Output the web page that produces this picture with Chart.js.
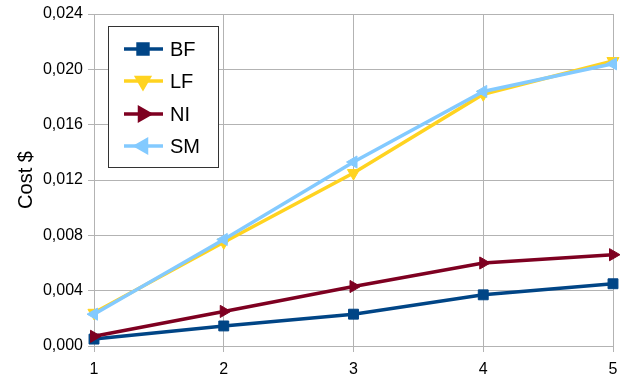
<!DOCTYPE html>
<html>
<head>
<meta charset="UTF-8">
<script src="https://cdn.jsdelivr.net/npm/chart.js@4"></script>
<style>
  body{margin:0;background:#fff;}
  #wrap{width:621px;height:379px;}
</style>
</head>
<body>
<div id="wrap"><canvas id="myChart" width="621" height="379"></canvas></div>
<script>
const xLabels = ['1','2','3','4','5'];
const names = ['BF','LF','NI','SM'];
const bf = [0.0005, 0.00145, 0.0023, 0.0037, 0.0045];
const lf = [0.0024, 0.0075, 0.0125, 0.0182, 0.0206];
const ni = [0.0007, 0.0025, 0.0043, 0.0060, 0.0066];
const sm = [0.0023, 0.0077, 0.0133, 0.0184, 0.0204];
const yTicks = [0, 0.004, 0.008, 0.012, 0.016, 0.020, 0.024];

const colors = ['#004586','#ffd320','#7e0021','#83caff'];
const styles = ['rect','triangle','triangle','triangle'];
const rots = [0, 180, 90, 270];
const series = [bf, lf, ni, sm];

Chart.defaults.font.family = "'Liberation Sans', Arial, sans-serif";
Chart.defaults.color = '#000';

// legend box drawn inside the plot, like the original
const boxLegend = {
  id: 'boxLegend',
  afterDraw(chart){
    const c = chart.ctx;
    c.save();
    c.fillStyle = '#fff';
    c.fillRect(108.5, 26.5, 110, 141);
    c.strokeStyle = '#333';
    c.lineWidth = 1;
    c.strokeRect(108.5, 26.5, 110, 141);
    const rows = [49, 81, 114, 146];
    names.forEach((n, i) => {
      const y = rows[i];
      c.strokeStyle = colors[i];
      c.lineWidth = 3.5;
      c.beginPath(); c.moveTo(124, y); c.lineTo(163, y); c.stroke();
      c.fillStyle = colors[i];
      Chart.helpers.drawPoint(c, {pointStyle: styles[i], radius: 7, rotation: rots[i], borderWidth: 1}, 143, y);
      c.fillStyle = '#000';
      c.font = "20px 'Liberation Sans', Arial, sans-serif";
      c.textBaseline = 'middle';
      c.fillText(n, 170, y + 1);
    });
    c.restore();
  }
};

new Chart(document.getElementById('myChart'), {
  type: 'line',
  data: {
    labels: xLabels,
    datasets: series.map((d, i) => ({
      label: names[i],
      data: d,
      borderColor: colors[i],
      backgroundColor: colors[i],
      borderWidth: 3.5,
      pointStyle: styles[i],
      pointRotation: rots[i],
      pointRadius: 7,
      pointBorderWidth: 1,
      order: 4 - i,
      tension: 0
    }))
  },
  options: {
    responsive: false,
    animation: false,
    layout: {padding: {top: 14, right: 5, left: 0, bottom: 0}},
    plugins: {legend: {display: false}, tooltip: {enabled: false}},
    scales: {
      x: {
        offset: false,
        grid: {color: '#b3b3b3', tickLength: 6, drawTicks: true},
        border: {color: '#b3b3b3'},
        ticks: {font: {size: 16}, padding: 8, maxRotation: 0},
        afterFit(s){ s.height = 33; s.paddingLeft = 0; s.paddingRight = 0; }
      },
      y: {
        min: 0, max: 0.024,
        afterBuildTicks(s){ s.ticks = yTicks.map(v => ({value: v})); },
        grid: {color: '#b3b3b3', tickLength: 6},
        border: {color: '#b3b3b3'},
        ticks: {font: {size: 16}, padding: 5,
          callback: v => v.toFixed(3).replace('.', ',')},
        title: {display: true, text: 'Cost $', font: {size: 20}, padding: {top: 14, bottom: 0}},
        afterFit(s){ s.width = 94; s.paddingTop = 0; s.paddingBottom = 0; }
      }
    }
  },
  plugins: [boxLegend]
});
</script>
</body>
</html>
